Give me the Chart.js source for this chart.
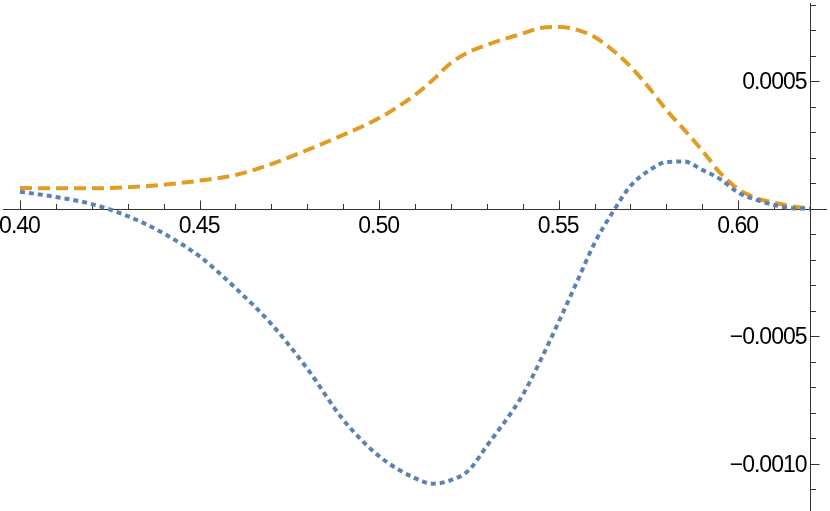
<!DOCTYPE html>
<html>
<head>
<meta charset="utf-8">
<script src="https://cdn.jsdelivr.net/npm/chart.js@4/dist/chart.umd.min.js"></script>
<style>
html,body{margin:0;padding:0;background:#fff;}
#wrap{width:830px;height:511px;}
</style>
</head>
<body>
<div id="wrap"><canvas id="c" width="830" height="511"></canvas></div>
<script>
// ---- data ----
const xValues = [0.40,0.41,0.42,0.43,0.44,0.45,0.46,0.47,0.48,0.49,0.50,0.51,0.515,0.52,0.525,0.53,0.54,0.545,0.55,0.555,0.56,0.565,0.57,0.575,0.58,0.585,0.59,0.595,0.60,0.605,0.61,0.615,0.62];
const orangeValues = [0.000081,0.00008,0.00008,0.000084,0.000094,0.00011,0.000132,0.000175,0.00023,0.000289,0.000355,0.000446,0.000505,0.000571,0.000614,0.000642,0.000687,0.000708,0.000712,0.000702,0.000673,0.000622,0.000557,0.000477,0.000387,0.000309,0.000228,0.00014,0.000077,0.000042,0.000024,0.0000086,0.000001];
const blueValues = [0.0000667,0.000046,0.000018,-0.000029,-0.000097,-0.000187,-0.000311,-0.000452,-0.000627,-0.000827,-0.00097,-0.001056,-0.001078,-0.001064,-0.001025,-0.00093,-0.00073,-0.000593,-0.000444,-0.00029,-0.000135,-0.000015,0.000089,0.000148,0.000183,0.000185,0.000152,0.000116,0.000063,0.000035,0.0000145,0.000002,0.0];

const xMajorTicks = [0.40,0.45,0.50,0.55,0.60];
const xMajorLabels = ["0.40","0.45","0.50","0.55","0.60"];
const xMinorTicks = [0.41,0.42,0.43,0.44,0.46,0.47,0.48,0.49,0.51,0.52,0.53,0.54,0.56,0.57,0.58,0.59,0.61];
const yMajorTicks = [0.0005,-0.0005,-0.0010];
const yMajorLabels = ["0.0005","\u22120.0005","\u22120.0010"];
const yMinorTicks = [0.0008,0.0007,0.0006,0.0004,0.0003,0.0002,0.0001,-0.0001,-0.0002,-0.0003,-0.0004,-0.0006,-0.0007,-0.0008,-0.0009,-0.0011];
const yAxisAt = 0.62;

const toPts = (ys) => xValues.map((x, i) => ({x: x, y: ys[i]}));

const axesPlugin = {
  id: 'mmaAxes',
  beforeDatasetsDraw(chart) {
    const ctx = chart.ctx;
    const xs = chart.scales.x, ys = chart.scales.y;
    const y0 = Math.round(ys.getPixelForValue(0)) + 0.5;
    const xA = Math.round(xs.getPixelForValue(yAxisAt)) + 0.5;
    ctx.save();
    ctx.strokeStyle = '#333';
    ctx.lineWidth = 1;
    ctx.beginPath();
    ctx.moveTo(3, y0); ctx.lineTo(827, y0);
    ctx.moveTo(xA, 3); ctx.lineTo(xA, 511);
    xMajorTicks.forEach(v => { const p = Math.round(xs.getPixelForValue(v)) + 0.5; ctx.moveTo(p, y0); ctx.lineTo(p, y0 - 9); });
    xMinorTicks.forEach(v => { const p = Math.round(xs.getPixelForValue(v)) + 0.5; ctx.moveTo(p, y0); ctx.lineTo(p, y0 - 5.5); });
    yMajorTicks.forEach(v => { const p = Math.round(ys.getPixelForValue(v)) + 0.5; ctx.moveTo(xA, p); ctx.lineTo(xA + 9, p); });
    yMinorTicks.forEach(v => { const p = Math.round(ys.getPixelForValue(v)) + 0.5; ctx.moveTo(xA, p); ctx.lineTo(xA + 5.5, p); });
    ctx.stroke();

    ctx.fillStyle = '#000';
    ctx.font = '23px "Liberation Sans", Arial, sans-serif';
    try { ctx.letterSpacing = '-1px'; } catch (e) {}
    ctx.textBaseline = 'middle';
    ctx.textAlign = 'center';
    xMajorTicks.forEach((v, i) => {
      ctx.fillText(xMajorLabels[i], xs.getPixelForValue(v) - 0.5, y0 + 17);
    });
    ctx.textAlign = 'right';
    yMajorTicks.forEach((v, i) => {
      ctx.fillText(yMajorLabels[i], xA - 5 + 1, ys.getPixelForValue(v) + 1.5);
    });
    ctx.restore();
  }
};

new Chart(document.getElementById('c'), {
  type: 'line',
  data: {
    datasets: [
      {
        label: 'blue',
        data: toPts(blueValues),
        borderColor: '#5E81B5',
        borderWidth: 4,
        borderDash: [5, 4],
        pointRadius: 0,
        fill: false,
        cubicInterpolationMode: 'monotone'
      },
      {
        label: 'orange',
        data: toPts(orangeValues),
        borderColor: '#E19C24',
        borderWidth: 4,
        borderDash: [12, 6],
        pointRadius: 0,
        fill: false,
        cubicInterpolationMode: 'monotone'
      }
    ]
  },
  options: {
    responsive: false,
    animation: false,
    events: [],
    layout: { padding: 0 },
    plugins: { legend: { display: false }, tooltip: { enabled: false } },
    scales: {
      x: { type: 'linear', display: false, min: 0.39443, max: 0.62557 },
      y: { type: 'linear', display: false, min: -0.001185, max: 0.000818 }
    }
  },
  plugins: [axesPlugin]
});
</script>
</body>
</html>
